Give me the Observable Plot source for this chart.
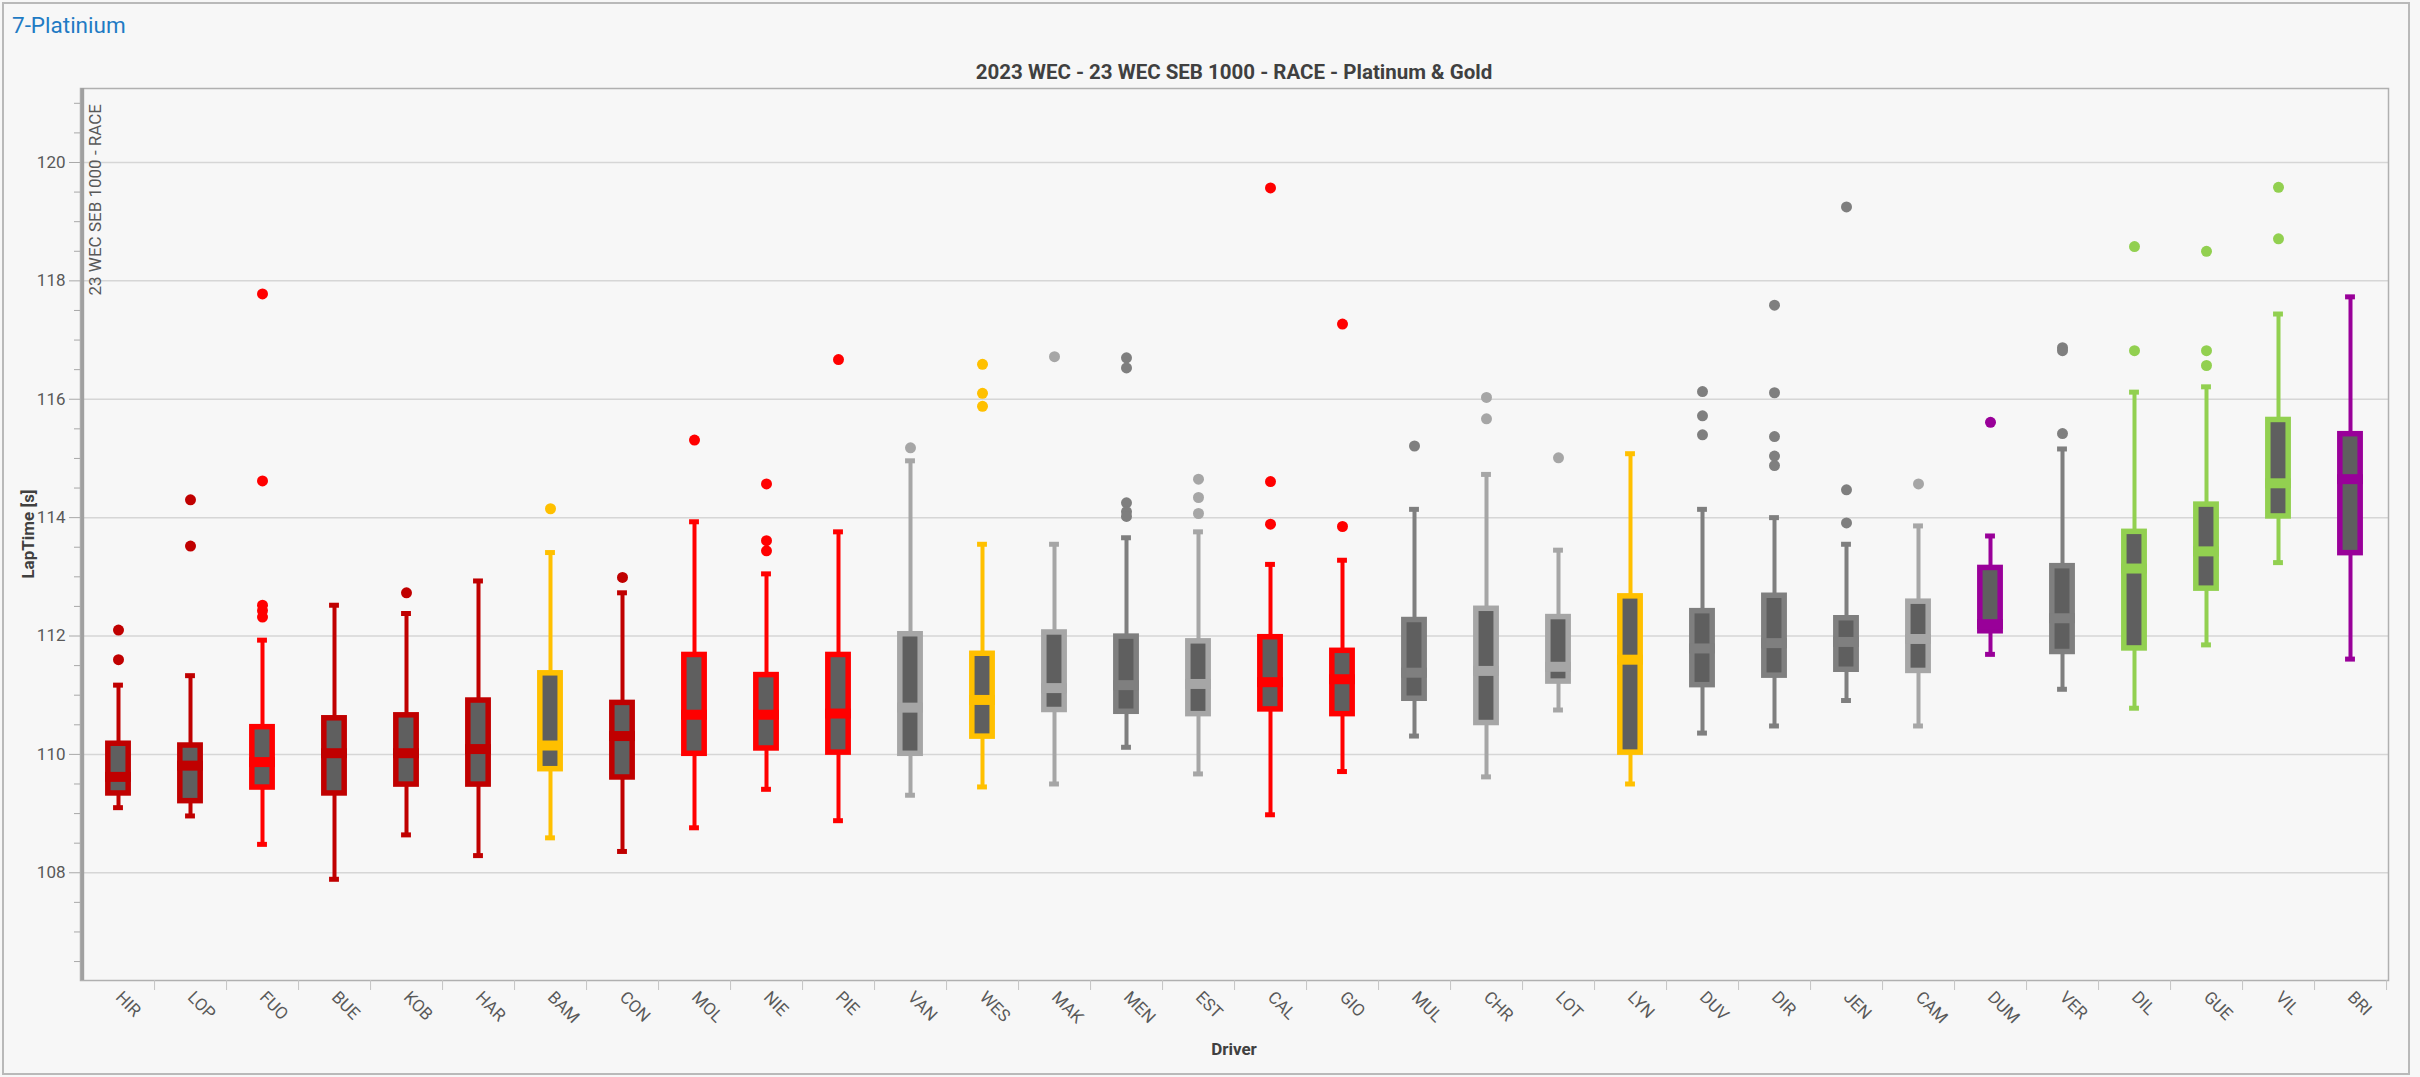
<!DOCTYPE html>
<html>
<head>
<meta charset="utf-8">
<script src="https://cdn.jsdelivr.net/npm/d3@7"></script>
<script src="https://cdn.jsdelivr.net/npm/@observablehq/plot@0.6"></script>
<style>
html, body { margin: 0; padding: 0; background: #ffffff; }
#wrap { position: relative; width: 2420px; height: 1077px; background: #f7f7f7; overflow: hidden; font-family: Roboto, "Open Sans", sans-serif; }
#border { position: absolute; left: 2px; top: 2px; width: 2408px; height: 1073px; border: 2px solid #b9b9b9; box-sizing: border-box; pointer-events: none; }
#chart { position: absolute; left: 0; top: 0; }
.lbl { position: absolute; white-space: nowrap; line-height: 22px; }
#tab { left: 12px; top: 14px; font-size: 22.5px; color: #1f7bc4; }
#title { left: 1234px; top: 72px; transform: translate(-50%, -50%); font-size: 20.5px; font-weight: bold; color: #404040; }
#xlab { left: 1234px; top: 1049px; transform: translate(-50%, -50%); font-size: 17px; font-weight: bold; color: #404040; }
#ylab { left: 0; top: 0; transform: translate(28px, 534px) rotate(-90deg) translate(-50%, -50%); transform-origin: 0 0; font-size: 17px; font-weight: bold; color: #404040; }
#session { left: 0; top: 0; transform: translate(84px, 104px) rotate(-90deg) translateX(-100%); transform-origin: 0 0; font-size: 17px; color: #595959; }
</style>
</head>
<body>
<div id="wrap">
  <div id="chart"></div>
  <div class="lbl" id="tab">7-Platinium</div>
  <div class="lbl" id="title">2023 WEC - 23 WEC SEB 1000 - RACE - Platinum &amp; Gold</div>
  <div class="lbl" id="session">23 WEC SEB 1000 - RACE</div>
  <div class="lbl" id="ylab">LapTime [s]</div>
  <div class="lbl" id="xlab">Driver</div>
  <div id="border"></div>
</div>
<script>
// ---- data ----
const drivers = ["HIR","LOP","FUO","BUE","KOB","HAR","BAM","CON","MOL","NIE","PIE","VAN","WES","MAK","MEN","EST","CAL","GIO","MUL","CHR","LOT","LYN","DUV","DIR","JEN","CAM","DUM","VER","DIL","GUE","VIL","BRI"];
const groups = ["g1","g1","g2","g1","g1","g1","g3","g1","g2","g2","g2","g4","g3","g4","g5","g4","g2","g2","g5","g4","g4","g3","g5","g5","g5","g4","g6","g5","g7","g7","g7","g6"];
const whiskerLow  = [109.10,108.96,108.48,107.89,108.64,108.29,108.59,108.36,108.76,109.41,108.88,109.31,109.45,109.50,110.12,109.67,108.98,109.71,110.31,109.62,110.75,109.50,110.36,110.48,110.91,110.48,111.69,111.10,110.78,111.85,113.24,111.61];
const quart1      = [109.34,109.21,109.44,109.34,109.49,109.49,109.75,109.61,110.01,110.10,110.03,110.01,110.30,110.75,110.72,110.68,110.76,110.68,110.94,110.53,111.23,110.03,111.17,111.33,111.43,111.41,112.08,111.73,111.79,112.80,114.02,113.40];
const median      = [109.62,109.81,109.87,110.02,110.02,110.09,110.15,110.31,110.67,110.67,110.69,110.79,110.92,111.12,111.17,111.19,111.22,111.27,111.38,111.41,111.48,111.60,111.79,111.88,111.90,111.95,112.20,112.30,113.14,113.43,114.58,114.65];
const quart3      = [110.18,110.15,110.46,110.61,110.66,110.91,111.37,110.87,111.68,111.34,111.68,112.03,111.70,112.06,111.99,111.91,111.98,111.75,112.27,112.46,112.32,112.67,112.42,112.68,112.30,112.58,113.15,113.18,113.76,114.22,115.65,115.41];
const whiskerHigh = [111.17,111.33,111.93,112.52,112.38,112.93,113.41,112.73,113.93,113.05,113.76,114.96,113.55,113.55,113.66,113.76,113.21,113.28,114.14,114.73,113.45,115.08,114.14,114.00,113.55,113.86,113.69,115.16,116.12,116.21,117.44,117.73];
const outliers = [
  [112.10,111.60],
  [114.30,113.52],
  [117.78,114.62,112.52,112.43,112.32],
  [],
  [112.73],
  [],
  [114.15],
  [112.99],
  [115.31],
  [114.57,113.61,113.44],
  [116.67],
  [115.18],
  [116.59,116.10,115.88],
  [116.72],
  [116.70,116.53,114.25,114.10,114.02],
  [114.65,114.34,114.07],
  [119.57,114.61,113.89],
  [117.27,113.85],
  [115.21],
  [116.03,115.67],
  [115.01],
  [],
  [116.13,115.72,115.40],
  [117.59,116.11,115.37,115.04,114.88],
  [119.25,114.47,113.91],
  [114.57],
  [115.61],
  [116.87,116.82,115.42],
  [118.58,116.82],
  [118.50,116.82,116.57],
  [119.58,118.71],
  []
];
const yMajorTicks = [108,110,112,114,116,118,120];
const yMinorTicks = [106.5,107,107.5,108.5,109,109.5,110.5,111,111.5,112.5,113,113.5,114.5,115,115.5,116.5,117,117.5,118.5,119,119.5,120.5,121];

// ---- styles ----
const palette = {g1: "#c00000", g2: "#ff0000", g3: "#ffc000", g4: "#a6a6a6", g5: "#7f7f7f", g6: "#990099", g7: "#92d050"};
const boxFill = "#5f5f5f";

const stats = drivers.map((d, i) => ({driver: d, lo: whiskerLow[i], q1: quart1[i], med: median[i], q3: quart3[i], hi: whiskerHigh[i], color: palette[groups[i]]}));
const outs = drivers.flatMap((d, i) => outliers[i].map(v => ({driver: d, v, color: palette[groups[i]]})));

const W = 2420, H = 1077, ML = 80, MR = 32, MT = 88, MB = 97;
const bw = (W - ML - MR) / drivers.length;
const boxW = 26, capW = 10, edge = 5.5;
const insBox = (bw - boxW) / 2, insCap = (bw - capW) / 2;

const chart = Plot.plot({
  width: W, height: H,
  marginLeft: ML, marginRight: MR, marginTop: MT, marginBottom: MB,
  style: {background: "transparent", fontFamily: "Roboto, 'Open Sans', sans-serif", overflow: "visible"},
  x: {type: "band", domain: drivers, padding: 0},
  y: {domain: [106.18, 121.25]},
  color: {type: "identity"},
  marks: [
    Plot.gridY(yMajorTicks, {stroke: "#d6d6d6", strokeOpacity: 1, strokeWidth: 1.5}),
    Plot.frame({stroke: "#b0b0b0", strokeWidth: 1.5}),
    Plot.axisY(yMinorTicks, {tickSize: 6, tickFormat: () => "", stroke: "#a8a8a8", label: null}),
    Plot.axisY(yMajorTicks, {tickSize: 11, tickPadding: 4, tickFormat: d => String(d), fontSize: 17, fill: "#595959", stroke: "#a8a8a8", label: null}),
    Plot.axisX(drivers, {tickSize: 10, tickFormat: () => "", dx: bw / 2, stroke: "#c4c4c4", label: null}),
    Plot.axisX({tickSize: 0, tickRotate: 45, tickPadding: 14, fontSize: 17, fill: "#595959", label: null}),
    Plot.ruleX([drivers[0]], {dx: -bw / 2, stroke: "#a0a0a0", strokeWidth: 3.5}),
    // whiskers
    Plot.ruleX(stats, {x: "driver", y1: "lo", y2: "hi", stroke: "color", strokeWidth: 4}),
    Plot.tickY(stats, {x: "driver", y: "lo", stroke: "color", strokeWidth: 5, inset: insCap}),
    Plot.tickY(stats, {x: "driver", y: "hi", stroke: "color", strokeWidth: 5, inset: insCap}),
    // boxes
    Plot.barY(stats, {x: "driver", y1: "q1", y2: "q3", fill: "color", insetLeft: insBox, insetRight: insBox, insetTop: -edge / 2, insetBottom: -edge / 2}),
    Plot.barY(stats, {x: "driver", y1: "q1", y2: "q3", fill: boxFill, insetLeft: insBox + edge, insetRight: insBox + edge, insetTop: edge / 2, insetBottom: edge / 2}),
    Plot.tickY(stats, {x: "driver", y: "med", stroke: "color", strokeWidth: 10, inset: insBox}),
    // outliers
    Plot.dot(outs, {x: "driver", y: "v", fill: "color", r: 5.5, stroke: null})
  ]
});
document.getElementById("chart").appendChild(chart);
</script>
</body>
</html>
